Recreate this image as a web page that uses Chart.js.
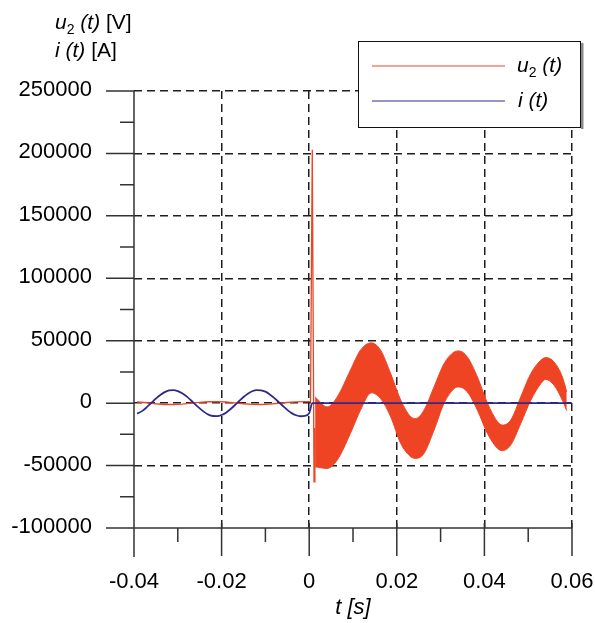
<!DOCTYPE html>
<html><head><meta charset="utf-8">
<script src="https://cdn.jsdelivr.net/npm/chart.js@4.4.0/dist/chart.umd.min.js"></script>
<style>html,body{margin:0;padding:0;background:#fff}#wrap{width:595px;height:623px;position:relative}</style>
</head><body><div id="wrap"><canvas id="c" width="595" height="623"></canvas></div>
<script>
// ---- tick labels ----
const xTickLabels = ['-0.04', '-0.02', '0', '0.02', '0.04', '0.06'];
const yTickLabels = ['-100000', '-50000', '0', '50000', '100000', '150000', '200000', '250000'];

// ---- i(t) [A] ----
const tCurrent = [-0.0393, -0.038, -0.037, -0.036, -0.035, -0.034, -0.033, -0.032, -0.031, -0.030,
  -0.029, -0.028, -0.027, -0.026, -0.025, -0.024, -0.023, -0.022, -0.021, -0.020,
  -0.019, -0.018, -0.017, -0.016, -0.015, -0.014, -0.013, -0.012, -0.011, -0.010,
  -0.009, -0.008, -0.007, -0.006, -0.005, -0.004, -0.003, -0.002, -0.001, 0.0,
  0.0003, 0.0005, 0.0007, 0.06];
const iCurrent = [-8400, -6000, -3000, 300, 3600, 6500, 8800, 10200, 10500, 9700,
  8000, 5400, 2300, -1000, -4200, -7000, -9200, -10300, -10400, -9500,
  -7600, -4900, -1700, 1700, 4900, 7600, 9500, 10400, 10300, 9200,
  7000, 4200, 1000, -2300, -5400, -8000, -9700, -10500, -10200, -8000,
  -4500, -1500, 0, 0];

// ---- u2(t) [V] before switching + transient spike ----
const tPre = [-0.0393, -0.037, -0.035, -0.033, -0.031, -0.029, -0.027, -0.025, -0.023, -0.021,
  -0.019, -0.017, -0.015, -0.013, -0.011, -0.009, -0.007, -0.005, -0.003, -0.001,
  0.0003, 0.0007, 0.0010, 0.0011, 0.0013];
const uPre = [900, 300, -500, -1100, -1100, -800, 0, 600, 1100, 1200,
  900, 200, -500, -1000, -1100, -800, -100, 500, 1000, 1200,
  1200, 203000, 5000, -63000, -20000];

// ---- u2(t) [V] after switching: envelope of the high-frequency band ----
const tBand = [0.00135, 0.0041, 0.0064, 0.0094, 0.0117, 0.0142, 0.0163, 0.0186, 0.0209, 0.0232,
  0.0243, 0.0262, 0.0285, 0.0308, 0.0331, 0.0342, 0.0361, 0.0384, 0.0407, 0.0430,
  0.0441, 0.0460, 0.0483, 0.0506, 0.0529, 0.0540, 0.0559, 0.0578, 0.0588];
const uUpper = [5000, -3000, 5000, 26400, 42400, 48300, 42400, 23700, 2400, -11000,
  -12300, -5600, 13000, 31700, 41000, 41800, 37000, 21000, 0, -15000,
  -17600, -13600, 5000, 23700, 34400, 36500, 33000, 21000, 9000];
const uLower = [-51000, -52300, -45600, -24300, -5600, 8300, 3700, -10900, -32300, -43000,
  -44300, -40300, -21600, 0, 11700, 13000, 9000, -5600, -24300, -36300,
  -38100, -33600, -16300, 2400, 15700, 19000, 14400, 2400, -6000];

const RED = '#EE4424';
const BLUE = '#2E2A8C';
const FONT = "'Liberation Sans', Arial, sans-serif";

const pts = (xs, ys) => xs.map((x, i) => ({x, y: ys[i]}));

const decor = {
  id: 'decor',
  afterDraw(chart) {
    const {ctx, chartArea: a, scales: {x, y}} = chart;
    ctx.save();
    ctx.setLineDash([]);
    ctx.strokeStyle = '#333';
    ctx.lineWidth = 1.5;
    // axis lines
    ctx.beginPath();
    ctx.moveTo(a.left, a.top); ctx.lineTo(a.left, a.bottom + 29);
    ctx.moveTo(a.left - 28, a.bottom); ctx.lineTo(a.right, a.bottom);
    // y ticks (major + minor halfway between majors)
    const yt = y.ticks.map(t => t.value);
    yt.forEach((v, i) => {
      const p = y.getPixelForValue(v);
      ctx.moveTo(a.left - 28, p); ctx.lineTo(a.left, p);
      if (i < yt.length - 1) {
        const m = y.getPixelForValue((v + yt[i + 1]) / 2);
        ctx.moveTo(a.left - 14, m); ctx.lineTo(a.left, m);
      }
    });
    const xt = x.ticks.map(t => t.value);
    xt.forEach((v, i) => {
      const p = x.getPixelForValue(v);
      ctx.moveTo(p, a.bottom - 5); ctx.lineTo(p, a.bottom + 28);
      if (i < xt.length - 1) {
        const m = x.getPixelForValue((v + xt[i + 1]) / 2);
        ctx.moveTo(m, a.bottom); ctx.lineTo(m, a.bottom + 14);
      }
    });
    ctx.stroke();

    // axis titles
    ctx.fillStyle = '#000';
    ctx.textBaseline = 'alphabetic';
    ctx.textAlign = 'left';
    const runs = (list, x0, y0) => {
      let xx = x0;
      list.forEach(([txt, font, dy]) => {
        ctx.font = font;
        ctx.fillText(txt, xx, y0 + (dy || 0));
        xx += ctx.measureText(txt).width;
      });
    };
    const IT = 'italic 21px ' + FONT, RG = '21px ' + FONT, SUB = '14px ' + FONT;
    runs([['u', IT], ['2', SUB, 5], [' (t)', IT], [' [V]', RG]], 55, 29);
    runs([['i', IT], [' (t)', IT], [' [A]', RG]], 55, 57);
    ctx.textAlign = 'center';
    ctx.font = 'italic 22px ' + FONT;
    ctx.fillText('t [s]', (a.left + a.right) / 2, 614);

    // legend
    ctx.fillStyle = '#fff';
    ctx.fillRect(358, 41, 223, 87);
    ctx.fillStyle = '#8a8a8a';
    ctx.fillRect(581, 43, 2.5, 86);
    ctx.strokeStyle = '#111';
    ctx.lineWidth = 1;
    ctx.strokeRect(358.5, 41.5, 222, 86);
    ctx.lineWidth = 1.2;
    ctx.strokeStyle = RED;
    ctx.beginPath(); ctx.moveTo(372, 66); ctx.lineTo(505, 66); ctx.stroke();
    ctx.strokeStyle = BLUE;
    ctx.beginPath(); ctx.moveTo(372, 101); ctx.lineTo(505, 101); ctx.stroke();
    ctx.fillStyle = '#000';
    ctx.textAlign = 'left';
    runs([['u', IT], ['2', SUB, 5], [' (t)', IT]], 517, 72);
    runs([['i', IT], [' (t)', IT]], 518, 107);
    ctx.restore();
  }
};

const gridColor = (hideVal) => (c) => (c.tick && Math.abs(c.tick.value - hideVal) < 1e-9 ? 'rgba(0,0,0,0)' : '#1e1e1e');

new Chart(document.getElementById('c'), {
  type: 'line',
  data: {
    datasets: [
      {label: 'i (t)', data: pts(tCurrent, iCurrent), borderColor: BLUE, borderWidth: 1.8,
        pointRadius: 0, cubicInterpolationMode: 'monotone', fill: false, order: 0},
      {label: 'u2 (t)', data: pts(tPre, uPre), borderColor: RED, borderWidth: 1.3,
        pointRadius: 0, tension: 0, fill: false, order: 1},
      {label: 'u2 upper', data: pts(tBand, uUpper), borderColor: RED, backgroundColor: RED,
        borderWidth: 1, pointRadius: 0, cubicInterpolationMode: 'monotone', fill: '+1', order: 2},
      {label: 'u2 lower', data: pts(tBand, uLower), borderColor: RED, borderWidth: 1,
        pointRadius: 0, cubicInterpolationMode: 'monotone', fill: false, order: 3}
    ]
  },
  options: {
    responsive: false,
    animation: false,
    devicePixelRatio: 1,
    events: [],
    layout: {padding: {top: 91, right: 23, left: 0, bottom: 0}},
    plugins: {legend: {display: false}, tooltip: {enabled: false}},
    scales: {
      x: {
        type: 'linear', min: -0.04, max: 0.06,
        afterFit: s => { s.height = 95; },
        ticks: {
          stepSize: 0.02, padding: 0, maxRotation: 0, autoSkip: false,
          color: '#000', font: {family: FONT, size: 22},
          callback: v => xTickLabels.find(l => Math.abs(parseFloat(l) - v) < 1e-9) ?? ''
        },
        grid: {drawTicks: true, tickLength: 41, tickColor: 'rgba(0,0,0,0)', color: gridColor(-0.04), lineWidth: 1.5},
        border: {display: false, dash: [8, 5]}
      },
      y: {
        type: 'linear', min: -100000, max: 250000,
        afterFit: s => { s.width = 134; },
        ticks: {
          stepSize: 50000, padding: 0, labelOffset: -1, color: '#000', font: {family: FONT, size: 22},
          callback: v => yTickLabels.find(l => Math.abs(parseFloat(l) - v) < 1e-6) ?? ''
        },
        grid: {drawTicks: true, tickLength: 42, tickColor: 'rgba(0,0,0,0)', color: gridColor(-100000), lineWidth: 1.5},
        border: {display: false, dash: [8, 5]}
      }
    }
  },
  plugins: [decor]
});
</script>
</body></html>
